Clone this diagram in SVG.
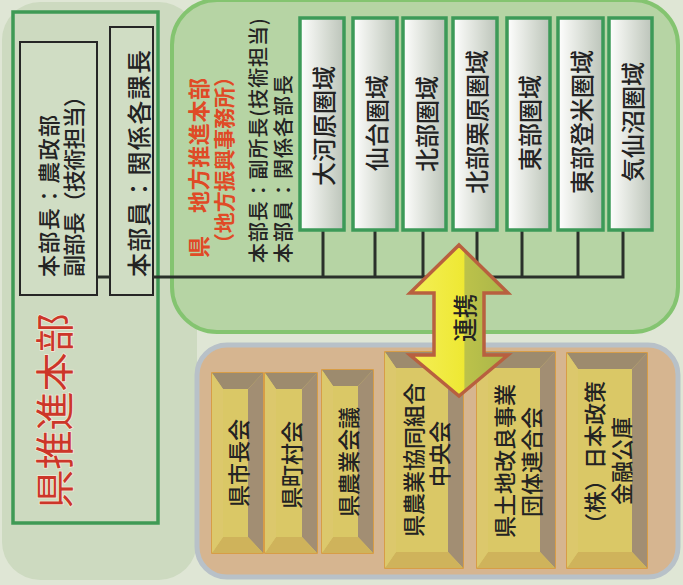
<svg xmlns="http://www.w3.org/2000/svg" width="683" height="585" viewBox="0 0 683 585">
<style>
text{font-family:"Noto Sans CJK JP","Noto Sans CJK SC",sans-serif;dominant-baseline:central;fill:#232323;font-weight:500}
.ln{stroke:#2a302a;stroke-width:3;fill:none}
.reg rect{fill:url(#gReg);stroke:#3d9a58;stroke-width:3.5}
.reg text{font-size:24px;text-anchor:middle}
.yb rect{fill:#dac866;stroke:#d8952f;stroke-width:1.5}
.yb .t{fill:#9d8b6e}
.yb .r{fill:#a28e73}
.yb .b{fill:#cfb35b}
.yb .l{fill:#dcc86c}
.yb text{font-size:22px;text-anchor:middle}
.bx{fill:#d0ddc4;stroke:#262626;stroke-width:2}
.red{fill:#e04a26;font-weight:bold}
</style>
<defs>
<linearGradient id="gReg" x1="0" y1="0" x2="1" y2="0">
<stop offset="0" stop-color="#ffffff"/>
<stop offset="0.25" stop-color="#eef0ec"/>
<stop offset="0.7" stop-color="#d0d6cd"/>
<stop offset="1" stop-color="#bcc4ba"/>
</linearGradient>
<linearGradient id="gArr" gradientUnits="userSpaceOnUse" x1="410" y1="0" x2="508" y2="0">
<stop offset="0" stop-color="#f4ef58"/>
<stop offset="0.55" stop-color="#eee833"/>
<stop offset="0.56" stop-color="#bcc24a"/>
<stop offset="1" stop-color="#a9b54a"/>
</linearGradient>
</defs>
<rect x="0" y="0" width="683" height="585" fill="#dfe6d5"/>
<rect x="2" y="2" width="195" height="578" rx="38" fill="#cddac0"/>

<g id="ken-hq">
<rect x="13" y="12" width="145" height="511" fill="#cddac0" stroke="#3f9a55" stroke-width="3.5"/>
<text transform="translate(52,411) rotate(-90)" text-anchor="middle" font-size="39" stroke="#f3ead8" stroke-width="1.5" paint-order="stroke" style="fill:#cc3629;font-weight:normal">県推進本部</text>
</g>
<g id="ken-chief">
<rect class="bx" x="20" y="42" width="77" height="253"/>
<text transform="translate(47,277) rotate(-90)" font-size="22" textLength="162" lengthAdjust="spacing">本部長：農政部</text>
<text transform="translate(72,277) rotate(-90)" font-size="22" textLength="192" lengthAdjust="spacing">副部長（技術担当）</text>
</g>
<g id="ken-members">
<rect class="bx" x="110" y="27" width="43" height="268"/>
<text transform="translate(137,277) rotate(-90)" font-size="24" textLength="227" lengthAdjust="spacing">本部員：関係各課長</text>
</g>

<g id="local-hq">
<rect x="172" y="0" width="506" height="332" rx="45" fill="#b6d4a4" stroke="#84c470" stroke-width="4"/>
<text class="red" transform="translate(197,258) rotate(-90)" font-size="22" textLength="180" lengthAdjust="spacing">県　地方推進本部</text>
<text class="red" transform="translate(223,254) rotate(-90)" font-size="21" textLength="188" lengthAdjust="spacing">（地方振興事務所）</text>
<text transform="translate(257,263) rotate(-90)" font-size="20" textLength="245" lengthAdjust="spacing">本部長：副所長(技術担当)</text>
<text transform="translate(282,263) rotate(-90)" font-size="20" textLength="188" lengthAdjust="spacing">本部員：関係各部長</text>
</g>

<g id="connectors">
<line class="ln" x1="97" y1="277" x2="110" y2="277"/>
<polyline class="ln" points="153,277 623,277 623,230"/>
<line class="ln" x1="323" y1="230" x2="323" y2="277"/>
<line class="ln" x1="375" y1="230" x2="375" y2="277"/>
<line class="ln" x1="423" y1="230" x2="423" y2="277"/>
<line class="ln" x1="477" y1="230" x2="477" y2="277"/>
<line class="ln" x1="522" y1="230" x2="522" y2="277"/>
<line class="ln" x1="578" y1="230" x2="578" y2="277"/>
</g>

<g id="r1" class="reg"><rect x="300" y="18" width="44" height="212"/><text transform="translate(322,126) rotate(-90)">大河原圏域</text></g>
<g id="r2" class="reg"><rect x="353" y="18" width="44" height="212"/><text transform="translate(375,123) rotate(-90)">仙台圏域</text></g>
<g id="r3" class="reg"><rect x="403" y="18" width="43" height="212"/><text transform="translate(425,124) rotate(-90)">北部圏域</text></g>
<g id="r4" class="reg"><rect x="453" y="18" width="44" height="212"/><text transform="translate(475,122) rotate(-90)">北部栗原圏域</text></g>
<g id="r5" class="reg"><rect x="507" y="18" width="43" height="212"/><text transform="translate(528,123) rotate(-90)">東部圏域</text></g>
<g id="r6" class="reg"><rect x="558" y="18" width="45" height="212"/><text transform="translate(580,122) rotate(-90)">東部登米圏域</text></g>
<g id="r7" class="reg"><rect x="609" y="18" width="43" height="212"/><text transform="translate(631,122) rotate(-90)">気仙沼圏域</text></g>

<g id="partners">
<rect x="197" y="345" width="481" height="232" rx="30" fill="#d6b590" stroke="#b8c1c8" stroke-width="5"/>
</g>

<g id="b1" class="yb">
<rect x="212" y="373" width="51" height="180"/>
<polygon class="t" points="212,373 263,373 248,389 223,389"/>
<polygon class="r" points="263,373 263,553 248,537 248,389"/>
<polygon class="b" points="212,553 263,553 248,537 223,537"/>
<polygon class="l" points="212,373 223,389 223,537 212,553"/>
<text transform="translate(237,463) rotate(-90)">県市長会</text>
</g>
<g id="b2" class="yb">
<rect x="265" y="373" width="52" height="180"/>
<polygon class="t" points="265,373 317,373 302,389 276,389"/>
<polygon class="r" points="317,373 317,553 302,537 302,389"/>
<polygon class="b" points="265,553 317,553 302,537 276,537"/>
<polygon class="l" points="265,373 276,389 276,537 265,553"/>
<text transform="translate(290,465) rotate(-90)">県町村会</text>
</g>
<g id="b3" class="yb">
<rect x="322" y="370" width="51" height="183"/>
<polygon class="t" points="322,370 373,370 358,386 333,386"/>
<polygon class="r" points="373,370 373,553 358,537 358,386"/>
<polygon class="b" points="322,553 373,553 358,537 333,537"/>
<polygon class="l" points="322,370 333,386 333,537 322,553"/>
<text transform="translate(347,462) rotate(-90)">県農業会議</text>
</g>
<g id="b4" class="yb">
<rect x="385" y="352" width="78" height="216"/>
<polygon class="t" points="385,352 463,352 448,368 396,368"/>
<polygon class="r" points="463,352 463,568 448,552 448,368"/>
<polygon class="b" points="385,568 463,568 448,552 396,552"/>
<polygon class="l" points="385,352 396,368 396,552 385,568"/>
<text transform="translate(412,460) rotate(-90)">県農業協同組合</text>
<text transform="translate(438,454) rotate(-90)">中央会</text>
</g>
<g id="b5" class="yb">
<rect x="477" y="352" width="78" height="216"/>
<polygon class="t" points="477,352 555,352 540,368 488,368"/>
<polygon class="r" points="555,352 555,568 540,552 540,368"/>
<polygon class="b" points="477,568 555,568 540,552 488,552"/>
<polygon class="l" points="477,352 488,368 488,552 477,568"/>
<text transform="translate(503,461) rotate(-90)">県土地改良事業</text>
<text transform="translate(530,462) rotate(-90)">団体連合会</text>
</g>
<g id="b6" class="yb">
<rect x="567" y="353" width="80" height="215"/>
<polygon class="t" points="567,353 647,353 632,369 578,369"/>
<polygon class="r" points="647,353 647,568 632,552 632,369"/>
<polygon class="b" points="567,568 647,568 632,552 578,552"/>
<polygon class="l" points="567,353 578,369 578,552 567,568"/>
<text transform="translate(593,458) rotate(-90)">（株）日本政策</text>
<text transform="translate(620,461) rotate(-90)">金融公庫</text>
</g>

<g id="renkei">
<polygon points="459,245 508,293 484,293 484,355 508,355 459,396 410,355 434,355 434,293 410,293" fill="url(#gArr)" stroke="#b8603f" stroke-width="3.5" stroke-linejoin="miter"/>
<text transform="translate(463,318) rotate(-90)" text-anchor="middle" font-size="24">連携</text>
</g>
</svg>
